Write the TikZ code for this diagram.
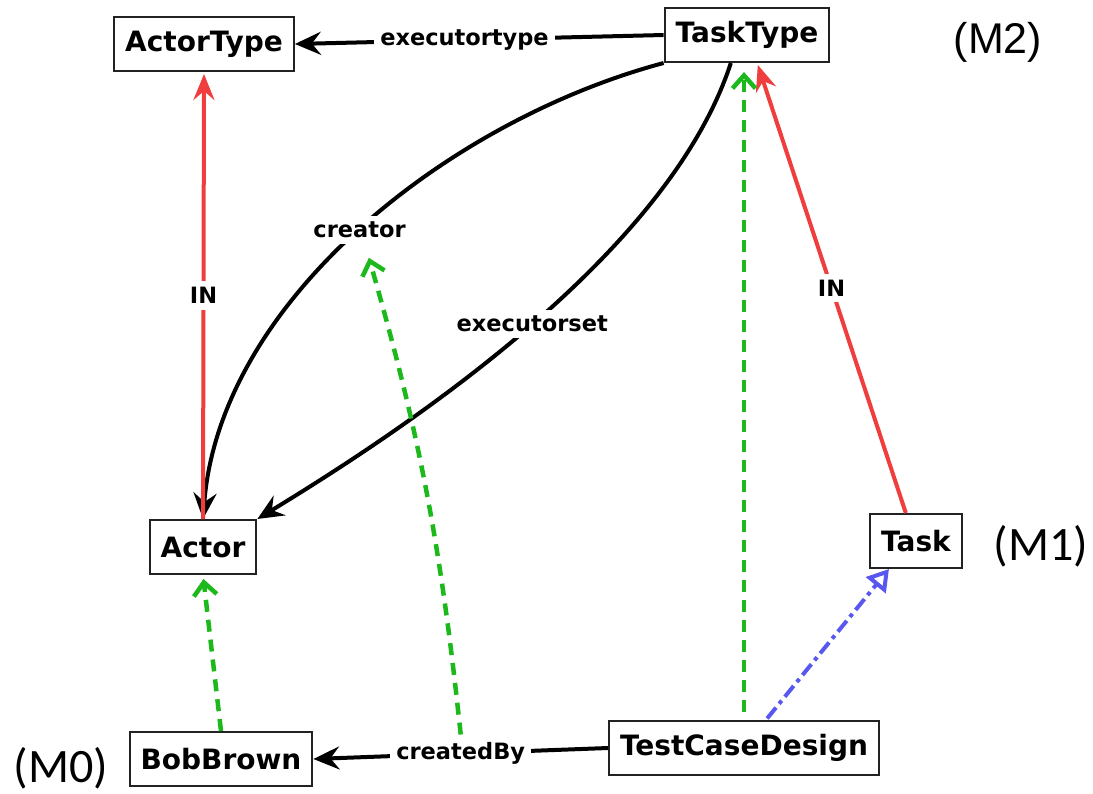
\documentclass[tikz,border=0pt]{standalone}
\usepackage{fontspec}
\setmainfont{DejaVu Sans}
\newfontfamily\carlito{Carlito}
\newfontfamily\libsans{Liberation Sans}
\usetikzlibrary{arrows.meta}
\definecolor{inred}{RGB}{240,62,62}
\definecolor{instgreen}{RGB}{28,184,28}
\definecolor{realblue}{RGB}{88,88,240}
\definecolor{boxline}{RGB}{34,34,34}

\begin{document}
\begin{tikzpicture}[x=1pt,y=-1pt,
  cls/.style={draw=boxline, line width=2pt, fill=white,
    font=\fontsize{28}{31}\selectfont\bfseries,
    minimum height=54pt, inner xsep=11pt, inner ysep=0pt},
  lbl/.style={fill=white, font=\fontsize{22.5}{25}\selectfont\bfseries, inner sep=6pt},
  assoc/.style={draw=black, line width=4pt, -{Stealth[length=26pt,width=23pt,inset=9pt]}},
  inrel/.style={draw=inred, line width=4pt, -{Stealth[length=26pt,width=21pt,inset=9pt]}},
  inst/.style={draw=instgreen, line width=4.5pt, dash pattern=on 12pt off 8pt,
    -{Straight Barb[length=13pt,width=23pt]}},
  real/.style={draw=realblue, line width=4pt, dash pattern=on 14pt off 5pt on 4pt off 5pt,
    -{Triangle[open,length=21pt,width=25pt,fill=white]}}
]
\useasboundingbox (0,0) rectangle (1093,793);

% classes and instances
\node[cls] (ActorType) at (204,44) {ActorType};
\node[cls] (TaskType) at (747,35) {TaskType};
\node[cls] (Actor) at (203,547) {Actor};
\node[cls] (Task) at (916,541) {Task};
\node[cls] (BobBrown) at (221,759) {BobBrown};
\node[cls] (TCD) at (744,748) {TestCaseDesign};

% modelling levels
\node[anchor=base, font=\fontsize{43}{46}\selectfont\libsans] (m2) at (998,53) {(M2)};
\node[anchor=base, font=\fontsize{48}{52}\selectfont\carlito] (m1) at (1041,560) {(M1)};
\node[anchor=base, font=\fontsize{48}{52}\selectfont\carlito] (m0) at (61,782) {(M0)};

% associations
\draw[assoc] (TaskType.west) -- node[lbl, pos=0.54] (et) {executortype} (ActorType.east);
\draw[assoc] (TaskType.south west) .. controls (450,120) and (220,300) ..
  node[lbl, pos=0.5] (cr) {creator} (Actor.north);
\draw[assoc] (TaskType.-120) .. controls (670,250) and (420,420) ..
  node[lbl, pos=0.5] (es) {executorset} (Actor.north east);
\draw[assoc] (TCD.west) -- node[lbl, pos=0.5] (cb) {createdBy} (BobBrown.east);

% IN relations
\draw[inrel, shorten >=2pt] (Actor.north) -- node[lbl] (inl) {IN} (ActorType.south);
\draw[inrel, shorten >=2pt] (Task.110) -- node[lbl] (inr) {IN} (TaskType.-70);

% instantiation
\draw[inst, shorten <=8pt, shorten >=9pt] (TCD.north) -- (TCD.north |- TaskType.south);
\draw[inst, shorten >=4pt] (BobBrown.north) -- (Actor.south);
\draw[inst, shorten >=12pt] (cb.north) to[bend right=5] ([xshift=6pt]cr.south);

% realization
\draw[real, shorten <=2pt] (TCD.52) -- (Task.-134);
\end{tikzpicture}
\end{document}
